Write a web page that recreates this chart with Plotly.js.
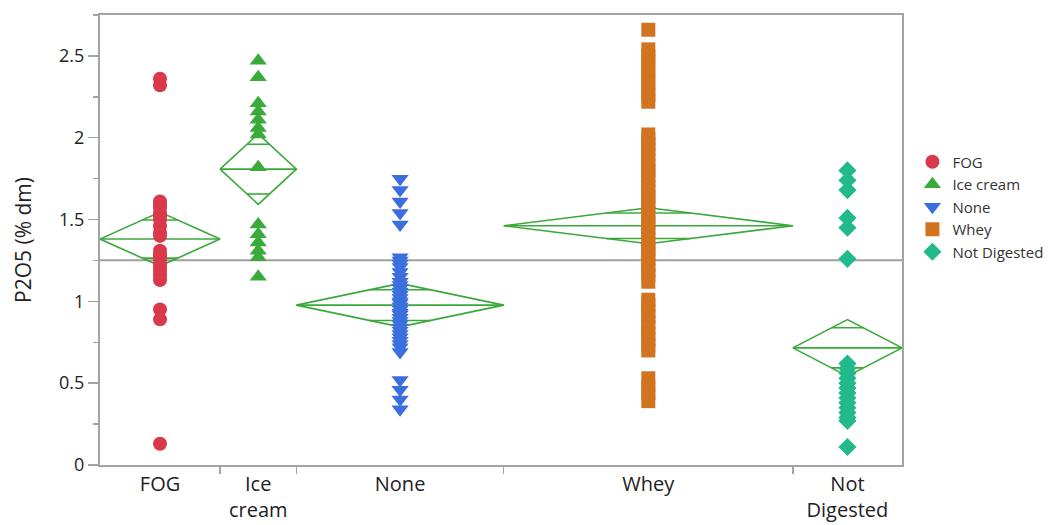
<!DOCTYPE html>
<html><head><meta charset="utf-8">
<script src="https://cdn.plot.ly/plotly-3.0.1.min.js"></script>
<style>html,body{margin:0;padding:0;background:#fff}#chart{width:1049px;height:525px}</style>
</head><body><div id="chart"></div>
<script>
// ---- data ----
const categories = ['FOG', 'Ice cream', 'None', 'Whey', 'Not Digested'];
const tickLabels = ['FOG', 'Ice<br>cream', 'None', 'Whey', 'Not<br>Digested'];

const fogValues = [2.36, 2.32, 1.61, 1.59, 1.57, 1.54, 1.52, 1.50, 1.46, 1.42, 1.40,
  1.31, 1.29, 1.27, 1.25, 1.22, 1.19, 1.16, 1.13, 0.95, 0.89, 0.13];
const iceCreamValues = [2.47, 2.37, 2.21, 2.16, 2.11, 2.06, 2.02, 1.82,
  1.47, 1.41, 1.36, 1.31, 1.27, 1.15];
const noneValues = [1.75, 1.68, 1.61, 1.54, 1.47,
  1.27, 1.25, 1.23, 1.21, 1.18, 1.15, 1.12, 1.10, 1.08, 1.06, 1.04, 1.02, 1.00, 0.99, 0.97,
  0.95, 0.93, 0.92, 0.90, 0.88, 0.86, 0.84, 0.82, 0.80, 0.78, 0.76, 0.74, 0.72, 0.69,
  0.52, 0.46, 0.40, 0.34];
const wheyValues = [2.66,
  2.54, 2.50, 2.46, 2.42, 2.38, 2.34, 2.30, 2.26, 2.22,
  2.02, 1.99, 1.96, 1.93, 1.90, 1.86, 1.83, 1.80, 1.77, 1.74,
  1.70, 1.67, 1.64, 1.61, 1.58, 1.54, 1.51, 1.48, 1.45, 1.42,
  1.38, 1.35, 1.32, 1.29, 1.26, 1.22, 1.19, 1.16, 1.12,
  1.01, 0.98, 0.94, 0.91, 0.87, 0.84, 0.80, 0.77, 0.73, 0.70,
  0.53, 0.48, 0.44, 0.39];
const notDigestedValues = [1.80, 1.74, 1.68, 1.51, 1.45, 1.26,
  0.62, 0.59, 0.56, 0.53, 0.50, 0.47, 0.44, 0.41, 0.38, 0.35, 0.32, 0.29, 0.27, 0.11];

const groupMeans = [1.381, 1.808, 0.977, 1.462, 0.716];
const ciHalfWidths = [0.165, 0.215, 0.133, 0.110, 0.173];
const grandMean = 1.252;

// ---- styling ----
const colors = ['#D9394B', '#3AAA3A', '#3B6FDE', '#D2731F', '#22BA8C'];
const symbols = ['circle', 'triangle-up', 'triangle-down', 'square', 'diamond'];
const markerSizes = [14, 15, 15, 14, 14];
const diamondColor = '#3AA83A';
const frameColor = '#a3a3a3';

const groups = [fogValues, iceCreamValues, noneValues, wheyValues, notDigestedValues];
const counts = groups.map(g => g.length);
const bounds = [0];
counts.forEach(n => bounds.push(bounds[bounds.length - 1] + n));
const centers = counts.map((n, i) => bounds[i] + n / 2);
const total = bounds[bounds.length - 1];

const traces = [];
traces.push({
  x: [0, total], y: [grandMean, grandMean], mode: 'lines',
  line: {color: '#a0a0a0', width: 2}, showlegend: false, hoverinfo: 'skip'
});
groups.forEach((g, i) => {
  const L = bounds[i], R = bounds[i + 1], C = centers[i];
  const m = groupMeans[i], h = ciHalfWidths[i];
  const o = h / Math.SQRT2;
  const cw = (R - L) / 2 * (1 - 1 / Math.SQRT2);
  traces.push({
    x: [L, C, R, C, L, null, L, R, null, C - cw, C + cw, null, C - cw, C + cw],
    y: [m, m + h, m, m - h, m, null, m, m, null, m + o, m + o, null, m - o, m - o],
    mode: 'lines', line: {color: diamondColor, width: 1.6},
    showlegend: false, hoverinfo: 'skip', connectgaps: false
  });
});
groups.forEach((g, i) => {
  traces.push({
    x: g.map(() => centers[i]), y: g, mode: 'markers', name: categories[i],
    marker: {symbol: symbols[i], size: markerSizes[i], color: colors[i], line: {width: 0}}
  });
});
traces.push({x: [centers[0]], y: [null], xaxis: 'x2', mode: 'markers',
  showlegend: false, hoverinfo: 'skip'});

const layout = {
  width: 1049, height: 525,
  margin: {l: 100, r: 147, t: 15, b: 60, autoexpand: false},
  paper_bgcolor: '#ffffff', plot_bgcolor: '#ffffff',
  font: {family: '"Open Sans", "Noto Sans", sans-serif', color: '#222'},
  xaxis: {
    range: [0, total], tickmode: 'array', tickvals: centers, ticktext: tickLabels,
    ticks: '', showgrid: false, zeroline: false, showline: true, mirror: true,
    linecolor: frameColor, linewidth: 2, tickfont: {size: 20, color: '#222'}
  },
  xaxis2: {
    range: [0, total], overlaying: 'x', anchor: 'y', side: 'bottom',
    tickmode: 'array', tickvals: bounds.slice(1, -1), showticklabels: false,
    ticks: 'outside', ticklen: 8, tickcolor: frameColor, tickwidth: 1.5,
    showgrid: false, zeroline: false, showline: false
  },
  yaxis: {
    range: [0, 2.75], tickmode: 'linear', tick0: 0, dtick: 0.5,
    ticks: 'outside', ticklen: 10, tickcolor: frameColor, tickwidth: 1.5,
    minor: {dtick: 0.25, ticks: 'outside', ticklen: 5, tickcolor: frameColor, tickwidth: 1.5, showgrid: false},
    showgrid: false, zeroline: false, showline: true, mirror: true,
    linecolor: frameColor, linewidth: 2, tickfont: {size: 18, color: '#222'},
    title: {text: 'P2O5 (% dm)', font: {size: 21, color: '#222'}, standoff: 22}
  },
  showlegend: true,
  legend: {x: 1.013, xanchor: 'left', y: 0.71, yanchor: 'top',
    font: {size: 15, color: '#333'}, bgcolor: 'rgba(0,0,0,0)', itemwidth: 30}
};

Plotly.newPlot('chart', traces, layout, {staticPlot: true, displayModeBar: false});
</script>
</body></html>
